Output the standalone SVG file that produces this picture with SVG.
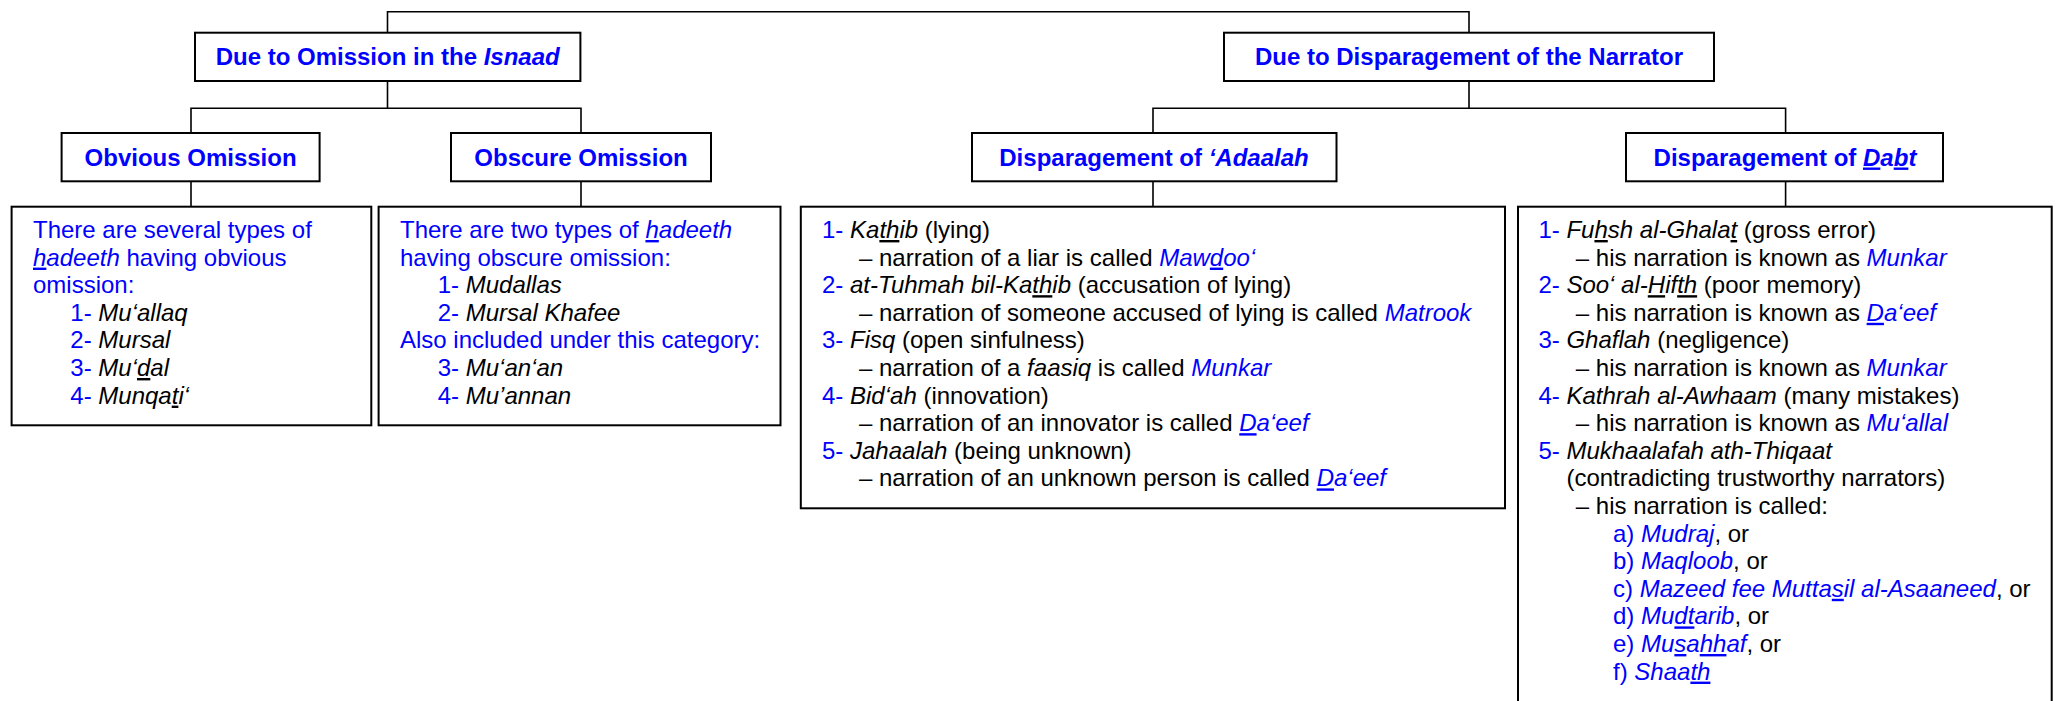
<svg xmlns="http://www.w3.org/2000/svg" width="2058" height="701" viewBox="0 0 2058 701">
<style>
.bx{fill:#fff;stroke:#000;stroke-width:2}
.cn{fill:none;stroke:#000;stroke-width:1.6}
.t{font-family:"Liberation Sans",Arial,sans-serif;font-size:24px;fill:#000}
.h{font-weight:bold;fill:#0000FF;text-anchor:middle}
.b{fill:#0000FF}
.k{fill:#000}
.i{font-style:italic}
.u{text-decoration:underline}
.uu{text-decoration:underline;text-decoration-style:double}
</style>
<rect width="2058" height="701" fill="#fff"/>
<g id="connectors">
<path class="cn" d="M387.5,32.7 V11.7 H1469 V32.7"/>
<path class="cn" d="M387.5,81 V108.3 M191,133 V108.3 H581 V133"/>
<path class="cn" d="M191,181.3 V206.7 M581,181.3 V206.7"/>
<path class="cn" d="M1469,81 V108.3 M1153,133 V108.3 H1785.6 V133"/>
<path class="cn" d="M1153,181.3 V206.7 M1785.6,181.3 V206.7"/>
</g>
<g id="omission">
<rect class="bx" x="195" y="32.7" width="385.4" height="48.3"/>
<text class="t h" x="387.7" y="65">Due to Omission in the <tspan class="i">Isnaad</tspan></text>
</g>
<g id="disparagement">
<rect class="bx" x="1224" y="32.7" width="490" height="48.3"/>
<text class="t h" x="1469" y="65">Due to Disparagement of the Narrator</text>
</g>
<g id="obvious">
<rect class="bx" x="61.6" y="133" width="258" height="48.3"/>
<text class="t h" x="190.6" y="165.5">Obvious Omission</text>
</g>
<g id="obscure">
<rect class="bx" x="451" y="133" width="260" height="48.3"/>
<text class="t h" x="581" y="165.5">Obscure Omission</text>
</g>
<g id="adaalah">
<rect class="bx" x="972" y="133" width="364.5" height="48.3"/>
<text class="t h" x="1154" y="165.5">Disparagement of <tspan class="i">‘Adaalah</tspan></text>
</g>
<g id="dabt">
<rect class="bx" x="1626" y="133" width="317" height="48.3"/>
<text class="t h" x="1785" y="165.5">Disparagement of <tspan class="i"><tspan class="u">D</tspan>a<tspan class="u">b</tspan>t</tspan></text>
</g>
<g id="obvious-list">
<rect class="bx" x="11.6" y="206.7" width="359.7" height="218.6"/>
<text class="t b" x="33" y="238">There are several types of</text>
<text class="t b" x="33" y="265.6"><tspan class="i"><tspan class="u">h</tspan>adeeth</tspan> having obvious</text>
<text class="t b" x="33" y="293.2">omission:</text>
<text class="t" x="70.3" y="320.8"><tspan class="b">1- </tspan><tspan class="i">Mu‘allaq</tspan></text>
<text class="t" x="70.3" y="348.4"><tspan class="b">2- </tspan><tspan class="i">Mursal</tspan></text>
<text class="t" x="70.3" y="376"><tspan class="b">3- </tspan><tspan class="i">Mu‘<tspan class="u">d</tspan>al</tspan></text>
<text class="t" x="70.3" y="403.6"><tspan class="b">4- </tspan><tspan class="i">Munqa<tspan class="u">t</tspan>i‘</tspan></text>
</g>
<g id="obscure-list">
<rect class="bx" x="378.6" y="206.7" width="401.9" height="218.6"/>
<text class="t b" x="400" y="238">There are two types of <tspan class="i"><tspan class="u">h</tspan>adeeth</tspan></text>
<text class="t b" x="400" y="265.6">having obscure omission:</text>
<text class="t" x="437.7" y="293.2"><tspan class="b">1- </tspan><tspan class="i">Mudallas</tspan></text>
<text class="t" x="437.7" y="320.8"><tspan class="b">2- </tspan><tspan class="i">Mursal Khafee</tspan></text>
<text class="t b" x="400" y="348.4">Also included under this category:</text>
<text class="t" x="437.7" y="376"><tspan class="b">3- </tspan><tspan class="i">Mu‘an‘an</tspan></text>
<text class="t" x="437.7" y="403.6"><tspan class="b">4- </tspan><tspan class="i">Mu’annan</tspan></text>
</g>
<g id="adaalah-list">
<rect class="bx" x="800.8" y="206.7" width="704.2" height="301.6"/>
<text class="t" x="822" y="238"><tspan class="b">1- </tspan><tspan class="i">Ka<tspan class="u">th</tspan>ib</tspan> (lying)</text>
<text class="t" x="859" y="265.6">– narration of a liar is called <tspan class="b i">Maw<tspan class="u">d</tspan>oo‘</tspan></text>
<text class="t" x="822" y="293.2"><tspan class="b">2- </tspan><tspan class="i">at-Tuhmah bil-Ka<tspan class="u">th</tspan>ib</tspan> (accusation of lying)</text>
<text class="t" x="859" y="320.8">– narration of someone accused of lying is called <tspan class="b i">Matrook</tspan></text>
<text class="t" x="822" y="348.4"><tspan class="b">3- </tspan><tspan class="i">Fisq</tspan> (open sinfulness)</text>
<text class="t" x="859" y="376">– narration of a <tspan class="i">faasiq</tspan> is called <tspan class="b i">Munkar</tspan></text>
<text class="t" x="822" y="403.6"><tspan class="b">4- </tspan><tspan class="i">Bid‘ah</tspan> (innovation)</text>
<text class="t" x="859" y="431.2">– narration of an innovator is called <tspan class="b i"><tspan class="u">D</tspan>a‘eef</tspan></text>
<text class="t" x="822" y="458.8"><tspan class="b">5- </tspan><tspan class="i">Jahaalah</tspan> (being unknown)</text>
<text class="t" x="859" y="486.4">– narration of an unknown person is called <tspan class="b i"><tspan class="u">D</tspan>a‘eef</tspan></text>
</g>
<g id="dabt-list">
<rect class="bx" x="1518" y="206.7" width="533.7" height="520"/>
<text class="t" x="1538.4" y="238"><tspan class="b">1- </tspan><tspan class="i">Fu<tspan class="u">h</tspan>sh al-Ghala<tspan class="u">t</tspan></tspan> (gross error)</text>
<text class="t" x="1575.8" y="265.6">– his narration is known as <tspan class="b i">Munkar</tspan></text>
<text class="t" x="1538.4" y="293.2"><tspan class="b">2- </tspan><tspan class="i">Soo‘ al-<tspan class="u">H</tspan>if<tspan class="uu">th</tspan></tspan> (poor memory)</text>
<text class="t" x="1575.8" y="320.8">– his narration is known as <tspan class="b i"><tspan class="u">D</tspan>a‘eef</tspan></text>
<text class="t" x="1538.4" y="348.4"><tspan class="b">3- </tspan><tspan class="i">Ghaflah</tspan> (negligence)</text>
<text class="t" x="1575.8" y="376">– his narration is known as <tspan class="b i">Munkar</tspan></text>
<text class="t" x="1538.4" y="403.6"><tspan class="b">4- </tspan><tspan class="i">Kathrah al-Awhaam</tspan> (many mistakes)</text>
<text class="t" x="1575.8" y="431.2">– his narration is known as <tspan class="b i">Mu‘allal</tspan></text>
<text class="t" x="1538.4" y="458.8"><tspan class="b">5- </tspan><tspan class="i">Mukhaalafah ath-Thiqaat</tspan></text>
<text class="t" x="1566.4" y="486.4">(contradicting trustworthy narrators)</text>
<text class="t" x="1575.8" y="514">– his narration is called:</text>
<text class="t" x="1613" y="541.6"><tspan class="b">a) </tspan><tspan class="b i">Mudraj</tspan>, or</text>
<text class="t" x="1613" y="569.2"><tspan class="b">b) </tspan><tspan class="b i">Maqloob</tspan>, or</text>
<text class="t" x="1613" y="596.8"><tspan class="b">c) </tspan><tspan class="b i">Mazeed fee Mutta<tspan class="u">s</tspan>il al-Asaaneed</tspan>, or</text>
<text class="t" x="1613" y="624.4"><tspan class="b">d) </tspan><tspan class="b i">Mu<tspan class="u">dt</tspan>arib</tspan>, or</text>
<text class="t" x="1613" y="652"><tspan class="b">e) </tspan><tspan class="b i">Mu<tspan class="u">s</tspan>a<tspan class="u">hh</tspan>af</tspan>, or</text>
<text class="t" x="1613" y="679.6"><tspan class="b">f) </tspan><tspan class="b i">Shaa<tspan class="u">th</tspan></tspan></text>
</g>
</svg>
